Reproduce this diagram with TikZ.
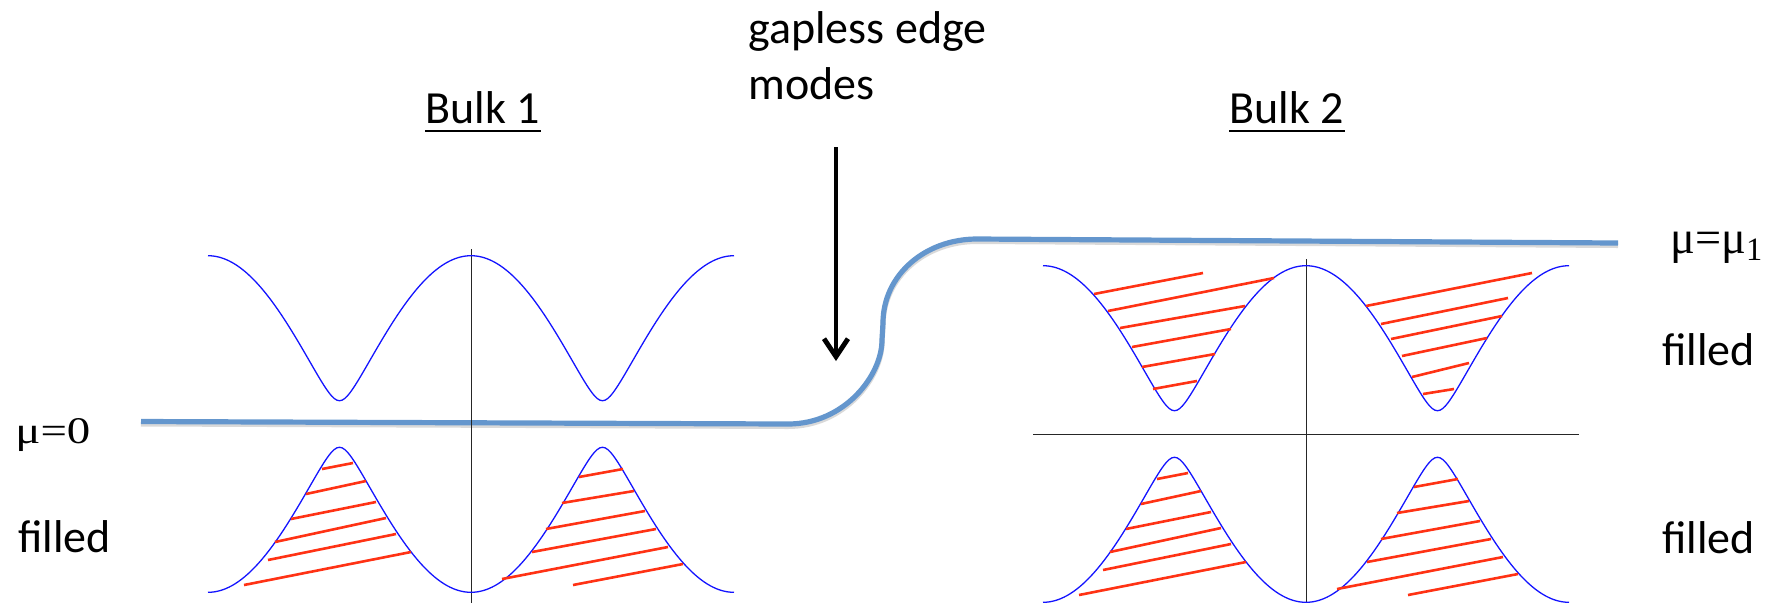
\documentclass[tikz,border=0pt]{standalone}
\usepackage{fontspec}
\setmainfont{Carlito}
\newfontfamily\greekserif{Liberation Serif}
\usepackage{tikz}
\usetikzlibrary{arrows.meta, positioning, calc}
\definecolor{BandBlue}{RGB}{20,20,255}
\definecolor{FillRed}{RGB}{255,50,20}
\definecolor{MuBlue}{RGB}{100,150,205}
\tikzset{
  >=latex,
  % bande e assi
  band/.style={BandBlue,line width=0.65pt,domain=-263:263,samples=201},
  hatch/.style={FillRed,line width=1.3pt},
  axis/.style={black!85,line width=0.5pt},
  % potenziale chimico
  mu line/.style={MuBlue,line width=2.6pt,
    preaction={draw=black!15,line width=2.6pt,transform canvas={yshift=-1.2pt}}},
  edge arrow/.style={-{Straight Barb[length=9pt,width=12pt]},line width=2.4pt},
  % testi
  lbl/.style={inner sep=0pt,font=\fontsize{23}{28}\selectfont},
  mu lbl/.style={inner sep=0pt,font=\greekserif\fontsize{20}{24}\selectfont},
  declare function={bandE(\t)=166.7*sqrt(0.0195+cos(0.6844*\t)*cos(0.6844*\t));}
}
\providecommand{\lowerband}{%
  \draw[band] plot (\x,{bandE(\x)});
  \foreach \xa/\ya/\xb/\yb in {-149/45/-118/39, -165/70/-105/57, -180/95/-95/78,
      -196/118/-85/94, -203/136/-75/110, -227/161/-60/128}
    \draw[hatch] (\xa,\ya) -- (\xb,\yb);
  \foreach \xa/\ya/\xb/\yb in {108/53/152/45, 91/79/163/67, 75/105/174/87,
      61/128/185/105, 31/155/197/123, 102/161/212/140}
    \draw[hatch] (\xa,\ya) -- (\xb,\yb);
}

\begin{document}
\begin{tikzpicture}[x=0.5pt,y=-0.5pt]
    \useasboundingbox (0,0) rectangle (1774,602);
    \draw[axis] (198,424) -- (744,424);
    \draw[mu line] (141,421.5) -- (788,424) .. controls (845,424) and (882,375) .. (882,340)
      -- (883,323) .. controls (883,275) and (925,239) .. (977,239) -- (1618,243);
    \begin{scope}[shift={(471,424)}]
      \draw[axis] (0,-175) -- (0,180);
      \draw[band] plot (\x,{-bandE(\x)});
      \lowerband
    \end{scope}
    \begin{scope}[shift={(1306,434)}]
      \draw[axis] (0,-175) -- (0,180);
      \draw[axis] (-273,0) -- (273,0);
      \draw[band] plot (\x,{-bandE(\x)});
      \foreach \xa/\ya/\xb/\yb in {-212/-140/-103/-161, -198/-123/-32/-156, -186/-106/-61/-128,
          -174/-87/-75/-105, -164/-67/-91/-80, -153/-45/-109/-53}
        \draw[hatch] (\xa,\ya) -- (\xb,\yb);
      \foreach \xa/\ya/\xb/\yb in {60/-128/226/-161, 75/-110/202/-136, 85/-95/196/-118,
          96/-78/181/-96, 106/-57/163/-71, 117/-40/148/-45}
        \draw[hatch] (\xa,\ya) -- (\xb,\yb);
      \lowerband
    \end{scope}
    \node[lbl,anchor=base west] (gapless) at (748,43.3) {gapless edge};
    \node[lbl,anchor=base west] (modes) at (748,99) {modes};
    \coordinate (edgeTop) at (836,147);
    \coordinate (edgeTip) at (836,361);
    \draw[edge arrow] (edgeTop) -- (edgeTip);
    \node[lbl,anchor=base] (bulkA) at (483,123.3) {Bulk 1};
    \node[lbl,anchor=base] (bulkB) at (1287,123.3) {Bulk 2};
    \draw[line width=1pt] ([yshift=-3.7pt]bulkA.base west) -- ([yshift=-3.7pt]bulkA.base east);
    \draw[line width=1pt] ([yshift=-3.7pt]bulkB.base west) -- ([yshift=-3.7pt]bulkB.base east);
    \node[mu lbl,anchor=base west] (muZero) at (15,443) {\resizebox{37.5pt}{12.5pt}{μ=0}};
    \node[mu lbl,anchor=base west] (muOne) at (1670,253) {\resizebox{46.5pt}{10.7pt}{μ=μ\textsubscript{1}}};
    \node[lbl,anchor=base west] (filledA) at (18,552) {filled};
    \node[lbl,anchor=base west] (filledB) at (1662,365) {filled};
    \node[lbl,anchor=base west] (filledC) at (1662,553) {filled};
\end{tikzpicture}
\end{document}
